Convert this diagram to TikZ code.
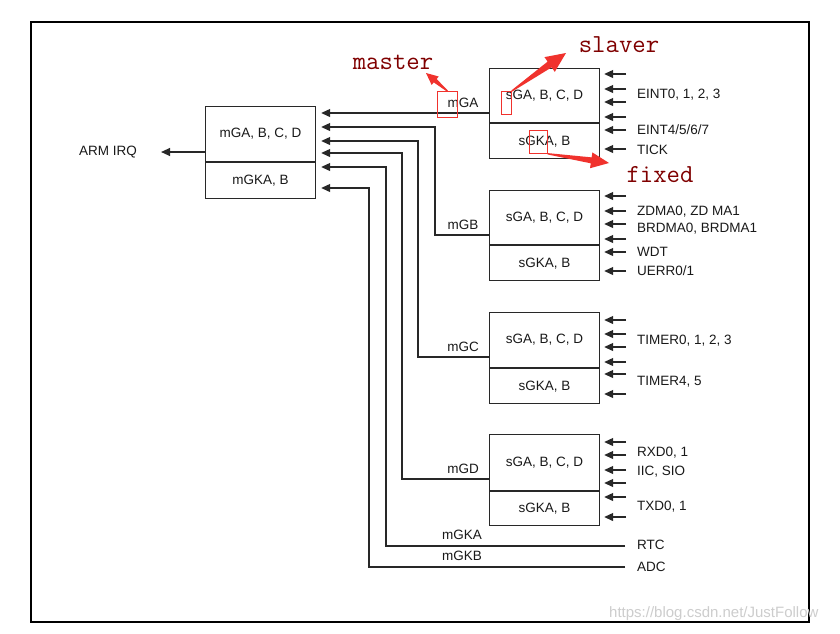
\documentclass[tikz,border=0pt]{standalone}
\usepackage{fontspec}
\setmainfont{Liberation Sans}
\usetikzlibrary{arrows.meta,calc}
\definecolor{ln}{RGB}{40,40,40}
\definecolor{annred}{RGB}{128,0,0}
\definecolor{arred}{RGB}{240,50,45}
\definecolor{wm}{RGB}{205,205,205}
\tikzset{
  box/.style={draw=ln,line width=1.2pt,minimum width=110pt,inner sep=0pt,font=\fontsize{13.5}{15}\selectfont,text=black!90},
  conn/.style={draw=ln,line width=1.2pt},
  arr/.style={conn,-{Triangle[length=9pt,width=8pt]}},
  lbl/.style={inner sep=0pt,font=\fontsize{13.5}{15}\selectfont,text=black!90},
  rlbl/.style={lbl,anchor=west},
  ann/.style={inner sep=0pt,font=\ttfamily\fontsize{26}{28}\selectfont,text=annred},
  rbox/.style={draw=arred,line width=0.8pt},
}
\newcommand{\redarrow}[5]{%
  \coordinate (rh) at ($(#2)!#3pt!(#1)$);
  \fill[arred] ($(#1)!0.7pt!90:(#2)$) -- ($(rh)!#5pt!90:(#2)$) -- ($(rh)!#4pt!90:(#2)$) -- (#2)
     -- ($(rh)!#4pt!-90:(#2)$) -- ($(rh)!#5pt!-90:(#2)$) -- ($(#1)!0.7pt!-90:(#2)$) -- cycle;}
\newcommand{\inarrows}[2]{%
  \foreach \yy in {#2} \draw[arr] ($(#1.east|-0,\yy)+(26,0)$) -- ($(#1.east|-0,\yy)+(4,0)$);}
\begin{document}
\begin{tikzpicture}[x=1pt,y=-1pt]
\useasboundingbox (0,0) rectangle (840,633);
\fill[white] (0,0) rectangle (840,633);
\draw[black,line width=2pt] (31,22) rectangle (809,622);

% master block
\node[box,minimum height=55pt,anchor=north west] (mU) at (205,106) {mGA, B, C, D};
\node[box,minimum height=36pt,anchor=north] (mL) at (mU.south) {mGKA, B};
\node[lbl] (irq) at (108,152) {ARM IRQ};
\draw[arr] (mU.west|-0,152) -- ($(irq.east)+(24,0)$);

% slave blocks
\node[box,minimum height=54pt,anchor=north west] (sAu) at (489,68) {sGA, B, C, D};
\node[box,minimum height=35pt,anchor=north] (sAl) at (sAu.south) {sGKA, B};
\node[box,minimum height=54pt,anchor=north west] (sBu) at (489,190) {sGA, B, C, D};
\node[box,minimum height=35pt,anchor=north] (sBl) at (sBu.south) {sGKA, B};
\node[box,minimum height=55pt,anchor=north west] (sCu) at (489,312) {sGA, B, C, D};
\node[box,minimum height=35pt,anchor=north] (sCl) at (sCu.south) {sGKA, B};
\node[box,minimum height=56pt,anchor=north west] (sDu) at (489,434) {sGA, B, C, D};
\node[box,minimum height=34pt,anchor=north] (sDl) at (sDu.south) {sGKA, B};

% master labels
\node[lbl] (lA) at (463,103) {mGA};
\node[lbl] (lB) at (463,225) {mGB};
\node[lbl] (lC) at (463,347) {mGC};
\node[lbl] (lD) at (463,469) {mGD};
\node[lbl] (lKA) at (462,535) {mGKA};
\node[lbl] (lKB) at (462,556) {mGKB};

% right labels
\node[rlbl] (rtc) at (637,545) {RTC};
\node[rlbl] (adc) at (637,567) {ADC};

% bend points
\coordinate (tB) at (435,127);
\coordinate (tC) at (418,141);
\coordinate (tD) at (402,153);
\coordinate (tKA) at (386,167);
\coordinate (tKB) at (369,188);

\draw[arr,shorten >=5pt] (sAu.west|-0,113) -- (mU.east|-0,113);
\draw[arr,shorten >=5pt] (sBu.west|-0,235) -| (tB) -- (mU.east|-tB);
\draw[arr,shorten >=5pt] (sCu.west|-0,357) -| (tC) -- (mU.east|-tC);
\draw[arr,shorten >=5pt] (sDu.west|-0,479) -| (tD) -- (mU.east|-tD);
\draw[arr,shorten >=5pt] ($(rtc.west)+(-12,1)$) -| (tKA) -- (mU.east|-tKA);
\draw[arr,shorten >=5pt] ($(adc.west)+(-12,0)$) -| (tKB) -- (mL.east|-tKB);

% input arrows
\inarrows{sAu}{74,89,102,117,130,149}
\inarrows{sBu}{196,211,224,239,252,271}
\inarrows{sCu}{320,334,347,362,374,394}
\inarrows{sDu}{442,455,470,483,497,517}

\node[rlbl] at (637,95) {EINT0, 1, 2, 3};
\node[rlbl] at (637,130) {EINT4/5/6/7};
\node[rlbl] at (637,150) {TICK};
\node[rlbl] at (637,212) {ZDMA0, ZD MA1};
\node[rlbl] at (637,229) {BRDMA0, BRDMA1};
\node[rlbl] at (637,252) {WDT};
\node[rlbl] at (637,271) {UERR0/1};
\node[rlbl] at (637,341) {TIMER0, 1, 2, 3};
\node[rlbl] at (637,382) {TIMER4, 5};
\node[rlbl] at (637,453) {RXD0, 1};
\node[rlbl] at (637,472) {IIC, SIO};
\node[rlbl] at (637,507) {TXD0, 1};

% annotations
\node[rbox,minimum width=20pt,minimum height=26pt,anchor=north west,inner sep=0pt] (bm) at (437,91) {};
\node[rbox,minimum width=10pt,minimum height=23pt,anchor=north west,inner sep=0pt] (bs) at (501,91) {};
\node[rbox,minimum width=18pt,minimum height=23pt,anchor=north west,inner sep=0pt] (bf) at (529,130) {};
\node[ann] (master) at (393,62) {master};
\node[ann] (slaver) at (619,45) {slaver};
\node[ann] (fixed) at (660,175) {fixed};
\coordinate (am) at (426,73);
\coordinate (as) at (566,53);
\coordinate (af) at (609,163);
\redarrow{bm.north}{am}{12}{5.5}{2.2}
\redarrow{bs.north east}{as}{20}{9}{3.5}
\redarrow{bf.south east}{af}{18}{8}{3}

\node[inner sep=0pt,anchor=west,font=\fontsize{15}{17}\selectfont,text=wm] (wmk) at (609,614) {https://blog.csdn.net/JustFollow};
\end{tikzpicture}
\end{document}
